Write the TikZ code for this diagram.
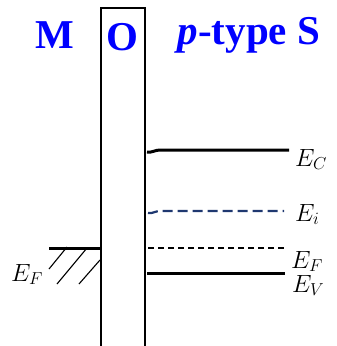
\documentclass[tikz,border=0pt]{standalone}
\usepackage{fontspec}
\setmainfont{Liberation Serif}
\usepackage{tikz}
\usetikzlibrary{positioning}
\DeclareMathSizes{23}{23}{18}{14}
\definecolor{levelblue}{RGB}{31,56,112}
\tikzset{
  region/.style={text=blue,font=\fontsize{41}{44}\selectfont\bfseries},
  level/.style={line width=3pt},
  lvlabel/.style={anchor=north west,inner sep=0pt,font=\fontsize{23}{25}\selectfont}
}
\begin{document}
\begin{tikzpicture}[x=1pt,y=-1pt]
\useasboundingbox (0,0) rectangle (337,346);
% oxide layer
\draw[line width=1.6pt] (101,346) -- (101,8) -- (145,8) -- (145,346);
\node[region] (m) at (55,35) {M};
\node[region] (o) at (122,37) {O};
\node[region] (s) at (249,35) {\textit{p}-type S};
% metal
\draw[level] (49,248) -- (101,248);
\draw[line width=1.1pt] (49,269) -- (67,247) (57,284) -- (87,248) (79,284) -- (100,260);
\node[lvlabel] (efm) at (11,264) {$E_F$};
% semiconductor bands
\draw[level] (147,152) to[out=-10,in=180] (160,150) -- (289,150);
\node[lvlabel] (ec) at (295,149) {$E_C$};
\draw[line width=2.2pt,levelblue,dash pattern=on 10pt off 5pt] (148,213) to[out=-10,in=180] (160,211) -- (284,211);
\node[lvlabel] (ei) at (295,204) {$E_i$};
\draw[line width=1.5pt,dash pattern=on 6pt off 4pt] (148,248) -- (285,248);
\node[lvlabel] (ef) at (291,251) {$E_F$};
\draw[level] (147,273) -- (285,273);
\node[lvlabel] (ev) at (292,275) {$E_V$};
\end{tikzpicture}
\end{document}
